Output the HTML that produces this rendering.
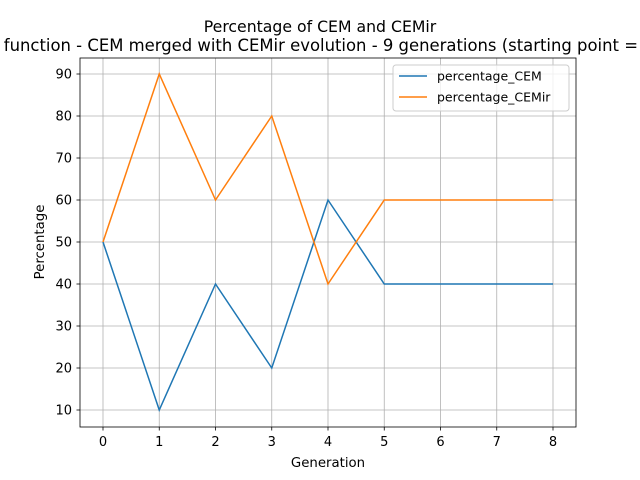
<!DOCTYPE html>
<html><head><meta charset="utf-8"><style>body{margin:0;background:#fff}svg{display:block;font-family:"DejaVu Sans","Liberation Sans",sans-serif}</style></head>
<body>
<svg id="chart" width="640" height="480">
<rect x="0" y="0" width="640" height="480" fill="#fff"/>
<text x="320" y="32" font-size="15.7" text-anchor="middle">Percentage of CEM and CEMir</text>
<g font-size="16.45">
<text x="320" y="51" text-anchor="end">Fitness function - CEM merged with CEMir evo</text>
<text x="320" y="51" text-anchor="start">lution - 9 generations (starting point = 50%)</text>
</g>
<g id="grid"></g>
<g id="series"></g>
<rect x="80" y="58" width="496" height="369" fill="none" stroke="#000" stroke-width="0.8"/>
<g id="ticks"></g>
<text x="328" y="467" font-size="13.3" text-anchor="middle">Generation</text>
<text transform="translate(44,242) rotate(-90)" font-size="13.3" text-anchor="middle">Percentage</text>
<g>
<rect x="393" y="65" width="176" height="46" rx="3" fill="#fff" fill-opacity="0.8" stroke="#ccc"/>
<line x1="399" y1="76" x2="427" y2="76" stroke="#1f77b4" stroke-width="1.5"/>
<text x="437" y="80.5" font-size="12.5">percentage_CEM</text>
<line x1="399" y1="97" x2="427" y2="97" stroke="#ff7f0e" stroke-width="1.5"/>
<text x="437" y="101.5" font-size="12.5">percentage_CEMir</text>
</g>
</svg>
<script>
const generations=[0,1,2,3,4,5,6,7,8];
const percentageCEM=[50,10,40,20,60,40,40,40,40];
const percentageCEMir=[50,90,60,80,40,60,60,60,60];
const xTicks=[0,1,2,3,4,5,6,7,8];
const yTicks=[10,20,30,40,50,60,70,80,90];
const NS="http://www.w3.org/2000/svg";
const xs=v=>103+v*56.25;
const ys=v=>242-(v-50)*4.2;
function mk(tag,attrs,parent){const e=document.createElementNS(NS,tag);for(const k in attrs)e.setAttribute(k,attrs[k]);parent.appendChild(e);return e;}
const grid=document.getElementById('grid'),ticks=document.getElementById('ticks'),series=document.getElementById('series');
xTicks.forEach(t=>{
 const g=mk('line',{x1:xs(t),x2:xs(t),y1:58,y2:427,stroke:'#b0b0b0','stroke-width':0.8},grid);
 
 
 mk('line',{x1:xs(t),x2:xs(t),y1:427,y2:430.5,stroke:'#000','stroke-width':0.8},ticks);
 const l=mk('text',{x:xs(t),y:446,'font-size':13,'text-anchor':'middle'},ticks);l.textContent=t;
 
 
});
yTicks.forEach(t=>{
 const g=mk('line',{x1:80,x2:576,y1:ys(t),y2:ys(t),stroke:'#b0b0b0','stroke-width':0.8},grid);
 
 
 mk('line',{x1:76.5,x2:80,y1:ys(t),y2:ys(t),stroke:'#000','stroke-width':0.8},ticks);
 const l=mk('text',{x:72,y:ys(t)+4.5,'font-size':13,'text-anchor':'end'},ticks);l.textContent=t;
 
 
});
function line(vals,color,name){
 const p=mk('polyline',{points:vals.map((v,i)=>xs(generations[i])+','+ys(v)).join(' '),fill:'none',stroke:color,'stroke-width':1.5},series);
 
 
}
line(percentageCEM,'#1f77b4','line-percentage-cem');
line(percentageCEMir,'#ff7f0e','line-percentage-cemir');
</script>
</body></html>
